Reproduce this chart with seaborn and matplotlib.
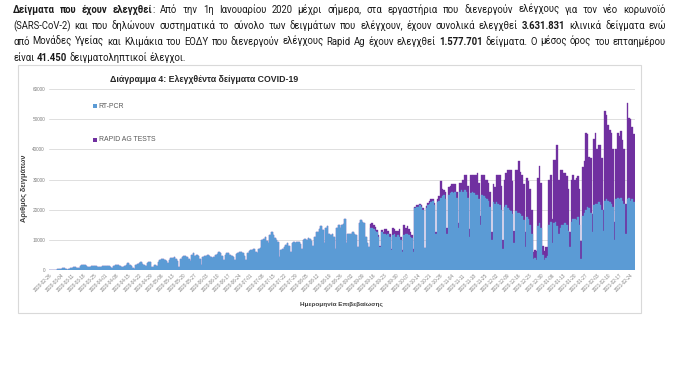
import matplotlib
matplotlib.use('Agg')
import matplotlib.pyplot as plt
from matplotlib.patches import Rectangle
import seaborn as sns
import pandas as pd

# ---------------- data (daily, starting Wed 2020-02-26) ----------------
start_date = '2020-02-26'

rt_pcr = [
    50, 80, 120, 60, 40, 200, 250,
    300, 800, 500, 250, 150, 400, 600,
    700, 900, 1000, 800, 600, 1200, 1600,
    1650, 1500, 1300, 1100, 900, 1300, 1400,
    1200, 1300, 1100, 1000, 900, 1200, 1300,
    1300, 1400, 1200, 1000, 800, 1300, 1500,
    1500, 1600, 1300, 1000, 900, 1200, 1600,
    2200, 1800, 1200, 600, 300, 1500, 2000,
    2300, 2500, 2000, 1700, 1300, 2400, 2700,
    2500, 1100, 1000, 1500, 1200, 2800, 3200,
    3500, 3800, 3300, 2900, 2200, 3400, 3900,
    4000, 4200, 3600, 3000, 1100, 3800, 4300,
    4500, 4800, 4400, 3500, 3000, 5000, 5500,
    4800, 5000, 4600, 3800, 1600, 4200, 4800,
    4500, 5000, 4800, 4200, 3900, 4400, 5000,
    5200, 6000, 5500, 4500, 3300, 5000, 5500,
    5500, 5000, 4800, 4200, 3300, 5200, 5600,
    6000, 6100, 5500, 4500, 3300, 5800, 6200,
    6500, 6600, 6800, 6000, 5500, 7000, 7200,
    10000, 10200, 10800, 9500, 8800, 11500, 12700,
    11500, 10500, 10000, 9400, 4400, 6600, 7000,
    7500, 8300, 8800, 8000, 6000, 9000, 9400,
    9000, 9400, 9200, 8500, 7000, 9800, 10200,
    10000, 10500, 10200, 9500, 8000, 10800, 12700,
    12700, 13500, 14500, 13200, 9000, 14000, 14700,
    12000, 11500, 12000, 11000, 7000, 13800, 15000,
    13800, 15000, 15400, 16800, 9000, 12000, 12000,
    12000, 12500, 12000, 11500, 7500, 15500, 16700,
    16000, 15500, 11000, 9000, 7700, 13800, 14000,
    13500, 13000, 12500, 11000, 7700, 12500, 12000,
    12000, 11500, 12000, 11000, 6600, 11500, 12000,
    11000, 11500, 11000, 10000, 6000, 11500, 12000,
    12000, 11500, 11000, 10500, 6000, 20500, 21000,
    21000, 21500, 21000, 20000, 7200, 20500, 21500,
    22000, 22500, 23000, 21500, 12000, 22600, 23000,
    24000, 24500, 25000, 23500, 12000, 25000, 25500,
    26000, 25500, 26000, 24000, 14000, 26000, 26500,
    26000, 26500, 26000, 24000, 11000, 25500, 26000,
    25500, 25000, 25000, 23500, 15000, 25000, 24500,
    24000, 23500, 23000, 21000, 10000, 22500, 22000,
    22500, 22000, 21500, 20000, 7000, 21000, 21500,
    20500, 20000, 19500, 18500, 9000, 19500, 19000,
    19000, 18500, 18000, 16500, 7500, 17500, 17000,
    15000, 12000, 3500, 4000, 3300, 14500, 15500,
    14000, 5000, 3300, 4000, 4500, 15000, 16000,
    9000, 15500, 16000, 14500, 12000, 14000, 15000,
    15000, 15500, 15000, 13000, 7700, 16000, 17000,
    17000, 16500, 17500, 15000, 3500, 18000, 19000,
    20000, 21000, 20500, 19000, 12500, 21500, 22000,
    22000, 22500, 21500, 20000, 13000, 23000, 23500,
    23000, 22500, 22000, 21000, 10000, 23500, 24000,
    23500, 24000, 23000, 22000, 12000, 23500, 24000,
    23000, 23500, 22500,
]

rapid = [
    0, 0, 0, 0, 0, 0, 0, 0, 0, 0, 0, 0, 0, 0,
    0, 0, 0, 0, 0, 0, 0, 0, 0, 0, 0, 0, 0, 0,
    0, 0, 0, 0, 0, 0, 0, 0, 0, 0, 0, 0, 0, 0,
    0, 0, 0, 0, 0, 0, 0, 0, 0, 0, 0, 0, 0, 0,
    0, 0, 0, 0, 0, 0, 0, 0, 0, 0, 0, 0, 0, 0,
    0, 0, 0, 0, 0, 0, 0, 0, 0, 0, 0, 0, 0, 0,
    0, 0, 0, 0, 0, 0, 0, 0, 0, 0, 0, 0, 0, 0,
    0, 0, 0, 0, 0, 0, 0, 0, 0, 0, 0, 0, 0, 0,
    0, 0, 0, 0, 0, 0, 0, 0, 0, 0, 0, 0, 0, 0,
    0, 0, 0, 0, 0, 0, 0, 0, 0, 0, 0, 0, 0, 0,
    0, 0, 0, 0, 0, 0, 0, 0, 0, 0, 0, 0, 0, 0,
    0, 0, 0, 0, 0, 0, 0, 0, 0, 0, 0, 0, 0, 0,
    0, 0, 0, 0, 0, 0, 0, 0, 0, 0, 0, 0, 0, 0,
    0, 0, 0, 0, 0, 0, 0, 0, 0, 0, 0, 0, 0, 0,
    0, 0, 0, 0, 0, 1500, 1700,
    1500, 1200, 800, 500, 300, 600, 700,
    1500, 2000, 1000, 800, 400, 2500, 1500,
    2000, 1500, 2500, 1000, 500, 3500, 2000,
    2500, 2000, 1500, 1000, 800, 500, 400,
    600, 500, 700, 400, 200, 800, 600,
    1000, 1200, 700, 800, 600, 1000, 1500,
    5500, 2500, 1500, 2500, 2000, 2500, 2500,
    2500, 3000, 2500, 2000, 1500, 2700, 2500,
    4000, 5000, 5500, 4000, 2500, 6000, 5500,
    6000, 6500, 7000, 5500, 3000, 6500, 7000,
    6000, 6500, 6000, 5000, 2500, 6000, 5500,
    9000, 9500, 10000, 8000, 3000, 9000, 10500,
    12500, 13000, 13500, 11000, 4000, 13500, 14000,
    17000, 14000, 13500, 12000, 5000, 13000, 12500,
    12000, 8000, 2500, 2500, 3000, 16000, 19000,
    15000, 3000, 3000, 3500, 3200, 15000, 15500,
    8000, 21000, 20500, 27000, 18000, 19000, 18000,
    17000, 16500, 16000, 14000, 5000, 14000, 14500,
    13000, 14000, 13500, 12000, 6000, 16000, 17000,
    25500, 24000, 17000, 18000, 6000, 22000, 23500,
    18000, 19000, 20000, 17000, 7000, 29800, 27800,
    25000, 24000, 23500, 19000, 6000, 16500, 21300,
    21000, 22000, 20000, 18000, 10000, 32000, 26500,
    27000, 24000, 22500,
]

series_labels = ['RT-PCR', 'RAPID AG TESTS']
y_ticks = [0, 10000, 20000, 30000, 40000, 50000, 60000]
title = 'Διάγραμμα 4: Ελεγχθέντα δείγματα COVID-19'
x_label = 'Ημερομηνία Επιβεβαίωσης'
y_label = 'Αριθμός δειγμάτων'
paragraph = [
    '**Δείγματα που έχουν ελεγχθεί**: Από την 1η Ιανουαρίου 2020 μέχρι σήμερα, στα εργαστήρια που διενεργούν ελέγχους για τον νέο κορωνοϊό',
    '(SARS-CoV-2) και που δηλώνουν συστηματικά το σύνολο των δειγμάτων που ελέγχουν, έχουν συνολικά ελεγχθεί **3.631.831** κλινικά δείγματα ενώ',
    'από Μονάδες Υγείας και Κλιμάκια του ΕΟΔΥ που διενεργούν ελέγχους Rapid Ag έχουν ελεγχθεί **1.577.701** δείγματα. Ο μέσος όρος του επταημέρου',
    'είναι **41.450** δειγματοληπτικοί έλεγχοι.',
]

# ---------------- styling ----------------
BLUE = '#5B9BD5'
PURPLE = '#7030A0'
GRID = '#d9d9d9'
TICK = '#7f7f7f'

sns.set_theme(style='white')
plt.rcParams['font.family'] = ['Liberation Sans', 'DejaVu Sans']
PARA_FAMILY = ['Liberation Sans Narrow', 'Roboto', 'DejaVu Sans']

W, H = 681, 384
fig = plt.figure(figsize=(W / 100, H / 100), dpi=100)
fig.patch.set_facecolor('white')
renderer = fig.canvas.get_renderer()


def fx(px):
    return px / W


def fy(py):
    return 1 - py / H


def text_width(s, size, weight='normal', family=None):
    kw = {} if family is None else {'family': family}
    t = fig.text(0, 0, s, fontsize=size, fontweight=weight, **kw)
    w = t.get_window_extent(renderer).width
    t.remove()
    return w


def fit_size(s, target, weight='normal', family=None, base=10.0):
    return base * target / text_width(s, base, weight, family)


# ---------------- dataframe ----------------
n = len(rt_pcr)
dates = pd.date_range(start_date, periods=n, freq='D')
df = pd.DataFrame({'pos': range(n), 'rt': rt_pcr, 'rapid': rapid})
df['total'] = df['rt'] + df['rapid']

# ---------------- chart frame ----------------
fig.patches.append(Rectangle((fx(18), fy(313)), 623 / W, 248 / H, transform=fig.transFigure,
                             fill=False, edgecolor=GRID, lw=0.8))

ax = fig.add_axes([fx(49.2), fy(270), 585.4 / W, 181 / H])
ax.set_facecolor('none')
sns.barplot(data=df, x='pos', y='total', color=PURPLE, width=1.0, saturation=1,
            edgecolor=PURPLE, linewidth=0.25, errorbar=None, ax=ax)
sns.barplot(data=df, x='pos', y='rt', color=BLUE, width=1.0, saturation=1,
            edgecolor=BLUE, linewidth=0.25, errorbar=None, ax=ax)

ax.set_xlim(-0.5, n - 0.5)
ax.set_ylim(0, 60000)
ax.set_axisbelow(True)
ax.yaxis.grid(True, color=GRID, lw=0.6)
ax.xaxis.grid(False)
for s in ax.spines.values():
    s.set_visible(False)
ax.set_yticks(y_ticks)
ax.set_yticklabels([str(v) for v in y_ticks], fontsize=3.4, color=TICK)
tick_pos = list(range(0, n, 7))
ax.set_xticks(tick_pos)
ax.set_xticklabels([dates[i].strftime('%Y-%m-%d') for i in tick_pos], rotation=45,
                   ha='right', rotation_mode='anchor', fontsize=3.3, color=TICK)
ax.tick_params(axis='y', length=0, pad=3)
ax.tick_params(axis='x', length=0, pad=2)
ax.set_xlabel('')
ax.set_ylabel('')

# title
ts = fit_size(title, 187, 'bold')
fig.text(fx(110), fy(79), title, fontsize=ts, fontweight='bold', color='#262626',
         ha='left', va='center')

# axis labels
xs = fit_size(x_label, 83, 'bold')
fig.text(fx(341.5), fy(304), x_label, fontsize=xs, fontweight='bold', color='#404040',
         ha='center', va='center')
ys = fit_size(y_label, 67, 'bold')
fig.text(fx(25), fy(188), y_label, fontsize=ys, fontweight='bold', color='#404040',
         ha='center', va='center', rotation=90)

# legend (manual, Excel-like)
ls = fit_size(series_labels[1], 56, 'normal')
for lab, col, yc in [(series_labels[0], BLUE, 106), (series_labels[1], PURPLE, 140)]:
    fig.patches.append(Rectangle((fx(92.5), fy(yc + 2.2)), 4.4 / W, 4.4 / H,
                                 transform=fig.transFigure, facecolor=col, edgecolor='none'))
    fig.text(fx(98.5), fy(yc), lab, fontsize=ls, color='#595959', ha='left', va='center')

# ---------------- justified paragraph ----------------
def parse_line(s):
    words = []
    bold = False
    for raw in s.split(' '):
        pieces = []
        parts = raw.split('**')
        for i, p in enumerate(parts):
            if i > 0:
                bold = not bold
            if p:
                pieces.append((p, bold))
        words.append(pieces)
    return words


def word_w(pieces, size):
    return sum(text_width(t, size, 'bold' if b else 'normal', PARA_FAMILY) for t, b in pieces)


para_lines = [parse_line(l) for l in paragraph]
left, right = 13.0, 666.0
target = right - left
psize = 7.3
nat = []
for words in para_lines[:3]:
    sp = text_width('a a', psize, family=PARA_FAMILY) - text_width('aa', psize, family=PARA_FAMILY)
    nat.append(sum(word_w(w, psize) for w in words) + sp * (len(words) - 1))
if max(nat) > target * 0.985:
    psize *= target * 0.985 / max(nat)
space = text_width('a a', psize, family=PARA_FAMILY) - text_width('aa', psize, family=PARA_FAMILY)
baselines = [13, 29, 45, 61]
for li, words in enumerate(para_lines):
    widths = [word_w(w, psize) for w in words]
    if li < 3:
        gap = (target - sum(widths)) / (len(words) - 1)
    else:
        gap = space
    x = left
    for w, wd in zip(words, widths):
        xx = x
        for t, b in w:
            fig.text(fx(xx), fy(baselines[li]), t, fontsize=psize, family=PARA_FAMILY,
                     fontweight='bold' if b else 'normal', color='#1a1a1a',
                     ha='left', va='baseline')
            xx += text_width(t, psize, 'bold' if b else 'normal', PARA_FAMILY)
        x += wd + gap

fig.savefig('out.png', dpi=100, facecolor='white')
